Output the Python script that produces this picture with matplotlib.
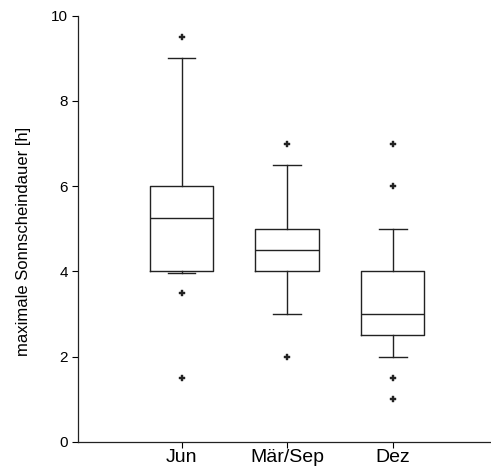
import matplotlib
matplotlib.use('Agg')
import matplotlib.pyplot as plt

# box statistics
categories = ['Jun', 'Mär/Sep', 'Dez']
q1 = [4.0, 4.0, 2.5]
med = [5.25, 4.5, 3.0]
q3 = [6.0, 5.0, 4.0]
whislo = [3.95, 3.0, 2.0]
whishi = [9.0, 6.5, 5.0]
fliers = [[9.5, 3.5, 1.5], [7.0, 2.0], [7.0, 6.0, 1.5, 1.0]]

plt.rcParams['font.family'] = ['Liberation Sans', 'DejaVu Sans']

stats = []
for i in range(len(categories)):
    stats.append({'label': categories[i], 'q1': q1[i], 'med': med[i], 'q3': q3[i],
                  'whislo': whislo[i], 'whishi': whishi[i], 'fliers': fliers[i]})

fig = plt.figure(figsize=(4.91, 4.76), dpi=100)
ax = fig.add_axes([0.159, 0.072, 0.841, 0.895])

lw = 1.0
ax.bxp(stats, positions=[1, 2, 3], widths=0.6, capwidths=0.26,
       boxprops=dict(color='#222222', linewidth=lw),
       medianprops=dict(color='#222222', linewidth=lw),
       whiskerprops=dict(color='#222222', linewidth=lw),
       capprops=dict(color='#222222', linewidth=lw),
       flierprops=dict(marker='P', markersize=4.5, markerfacecolor='#222222',
                       markeredgecolor='#222222', markeredgewidth=0.3))

ax.set_xlim(0.02, 3.93)
ax.set_ylim(0, 10)
ax.set_yticks([0, 2, 4, 6, 8, 10])
ax.set_xticks([1, 2, 3])
ax.set_xticklabels(categories, fontsize=14)
ax.tick_params(axis='y', labelsize=11, length=4, width=0.8, direction='out')
ax.tick_params(axis='x', length=4, width=0.8, direction='out', pad=1)
ax.set_ylabel('maximale Sonnscheindauer [h]', fontsize=12)
ax.yaxis.set_label_coords(-0.114, 0.47)

ax.spines['top'].set_visible(False)
ax.spines['right'].set_visible(False)
ax.spines['left'].set_linewidth(0.9)
ax.spines['bottom'].set_linewidth(0.9)
ax.spines['left'].set_color('#222222')
ax.spines['bottom'].set_color('#222222')

fig.savefig('out.png', dpi=100)
